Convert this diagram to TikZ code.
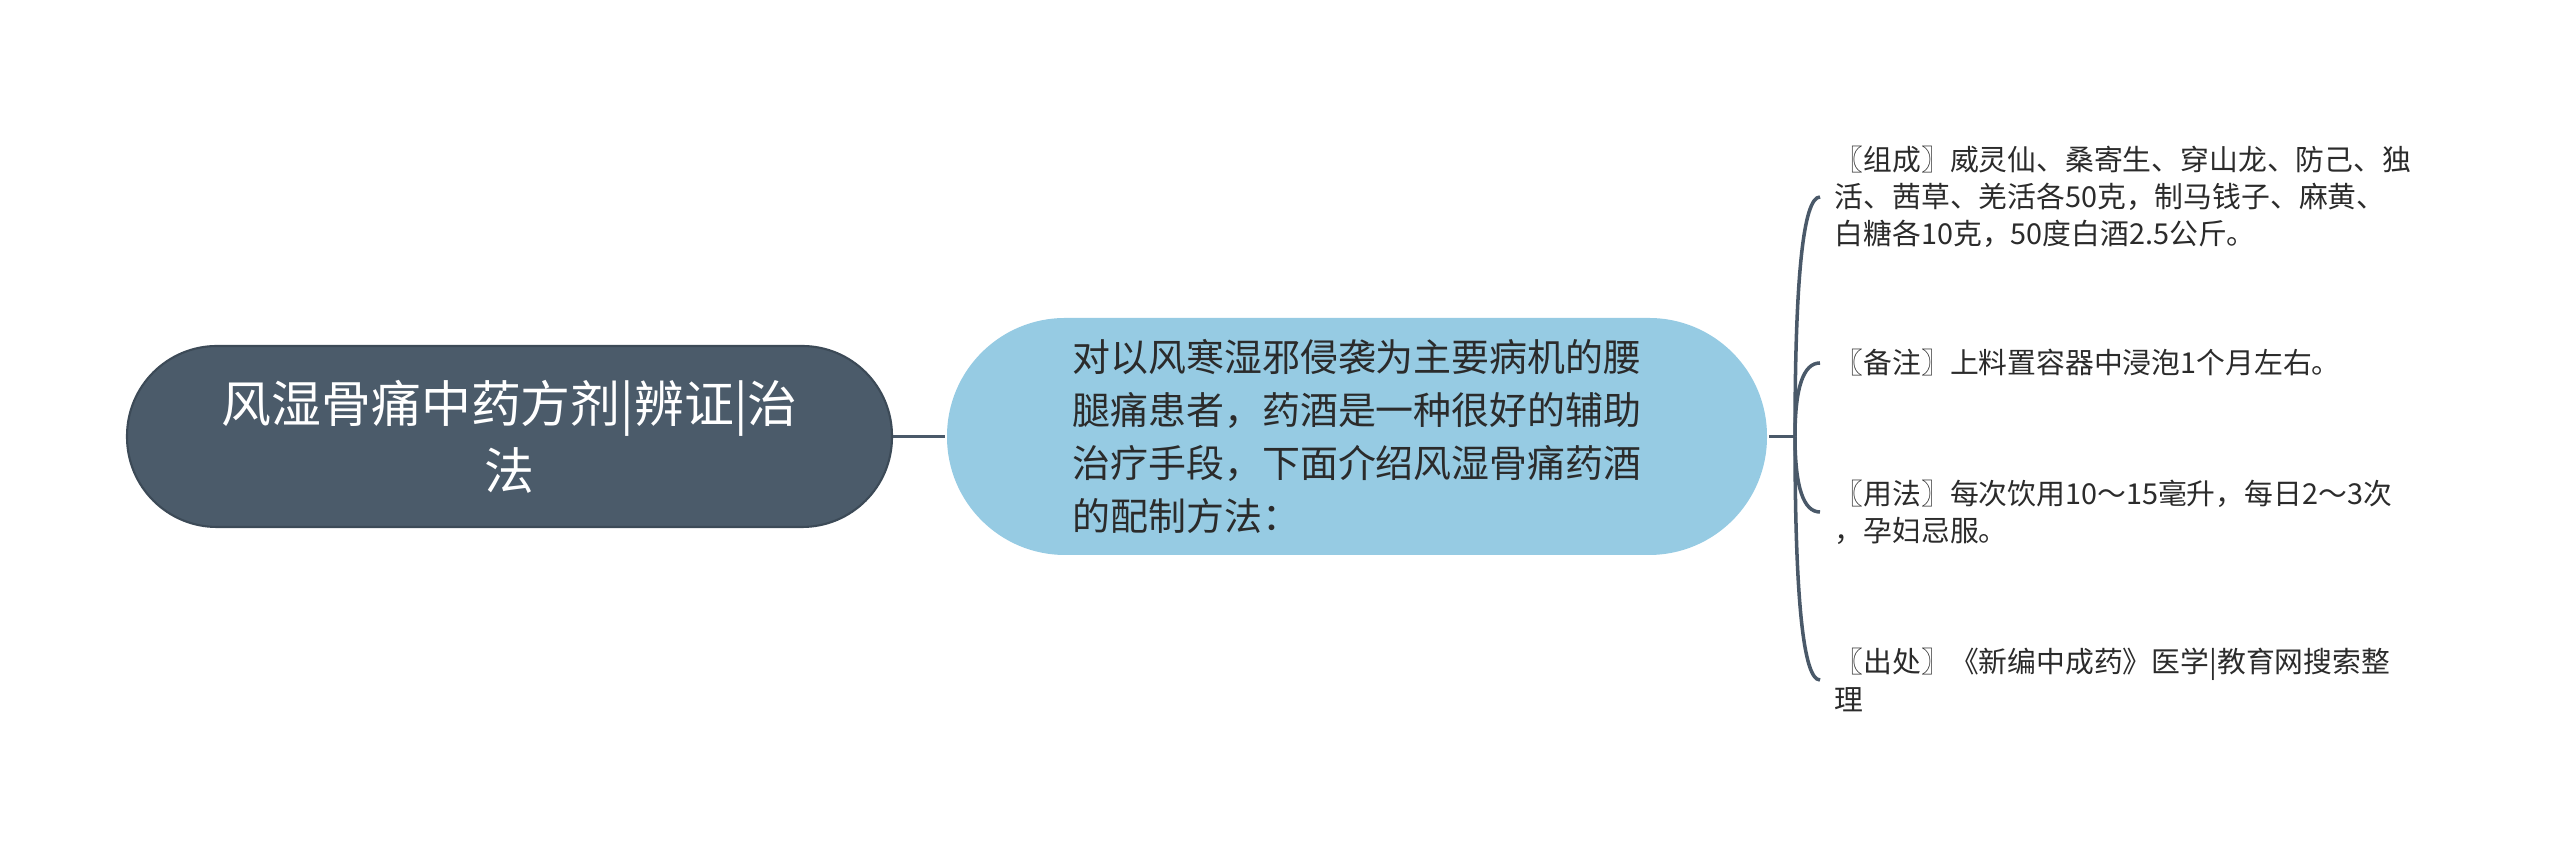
\documentclass[tikz,border=0pt]{standalone}
\usepackage{fontspec}
\newfontfamily\cjk{Noto Sans CJK SC}
\usepackage{tikz}
\usetikzlibrary{calc}
\definecolor{rootfill}{HTML}{4B5B6A}
\definecolor{rootline}{HTML}{3C4A57}
\definecolor{midfill}{HTML}{96CBE3}
\definecolor{linkcol}{HTML}{4A5969}
\definecolor{txt}{HTML}{2B2B2B}
\tikzset{every picture/.style={line width=1pt}}
\tikzset{
  rootnode/.style={rectangle, rounded corners=0.9cm, fill=rootfill, draw=rootline, line width=0.6pt,
    minimum width=7.65cm, minimum height=1.81cm, align=center, text=white,
    font=\cjk\fontsize{14.2pt}{19pt}\selectfont},
  midnode/.style={rectangle, rounded corners=1.18cm, fill=midfill, minimum width=8.2cm,
    minimum height=2.37cm, align=left, text=txt, font=\cjk\fontsize{10.8pt}{15pt}\selectfont},
  leaf/.style={anchor=west, inner xsep=0.13cm, align=left, text=txt,
    font=\cjk\fontsize{8.2pt}{10.6pt}\selectfont},
  link/.style={draw=linkcol, line width=1pt}
}
\begin{document}
\begin{tikzpicture}
\useasboundingbox (0,0) rectangle (25.6,8.55);
\node[rootnode] (root) at (5.095,4.185) {风湿骨痛中药方剂|辨证|治\\法};
\node[midnode] (mid) at (13.57,4.185) {对以风寒湿邪侵袭为主要病机的腰\\腿痛患者，药酒是一种很好的辅助\\治疗手段，下面介绍风湿骨痛药酒\\的配制方法：};
%
\node[leaf] (l1) at (18.2,6.58) {〖组成〗威灵仙、桑寄生、穿山龙、防己、独\\活、茜草、羌活各50克，制马钱子、麻黄、\\白糖各10克，50度白酒2.5公斤。};
\node[leaf] (l2) at (18.2,4.92) {〖备注〗上料置容器中浸泡1个月左右。};
\node[leaf] (l3) at (18.2,3.43) {〖用法〗每次饮用10～15毫升，每日2～3次\\，孕妇忌服。};
\node[leaf] (l4) at (18.2,1.75) {〖出处〗《新编中成药》医学|教育网搜索整\\理};
%
\coordinate (hub) at (17.95,4.185);
\draw[link] (root) -- (mid);
\draw[link] (mid.east) -- (hub);
\foreach \l in {l1,l2,l3,l4} {
  \coordinate (c\l) at (hub |- \l.west);
  \draw[link] (hub) .. controls ($(hub)!0.667!(c\l)$) and ($(\l.west)!0.667!(c\l)$) .. (\l.west);
}
\end{tikzpicture}
\end{document}
